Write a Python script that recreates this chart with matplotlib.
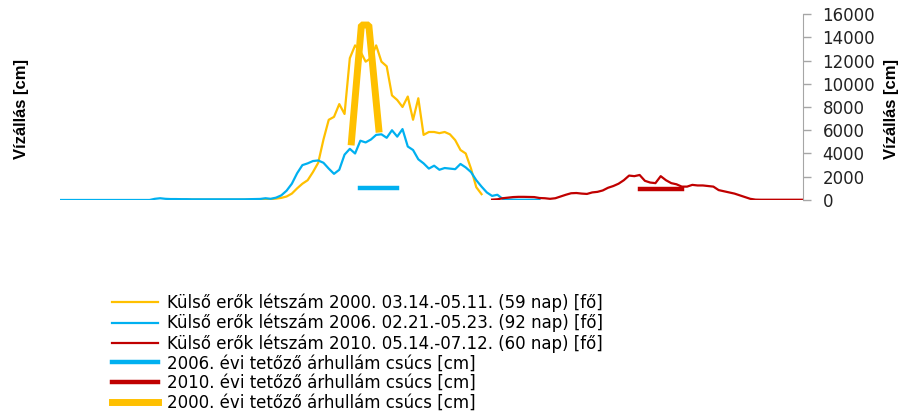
import numpy as np
import matplotlib.pyplot as plt

# days counted from 02.21 (start of the 2006 series)
start_2000 = 22
start_2006 = 0
start_2010 = 82

ero_2000 = [30, 30, 30, 30, 30, 20, 20, 20, 20, 20, 20, 20, 20, 30, 30, 40, 50,
            60, 80, 120, 180, 300, 550, 1000, 1400, 1700, 2400, 3200, 5200, 6900,
            7150, 8250, 7400, 12200, 13300, 12800, 11900, 12200, 13300, 11900,
            11500, 9000, 8600, 8000, 8900, 6900, 8750, 5600, 5850, 5850, 5750,
            5850, 5650, 5150, 4300, 4000, 2700, 1100, 500]

ero_2006 = [0, 0, 0, 0, 0, 0, 0, 0, 0, 0, 0, 0, 0, 0, 0, 0, 0, 0, 100, 150,
            100, 80, 80, 70, 70, 60, 60, 60, 60, 60, 60, 60, 60, 60, 60, 60, 70,
            80, 90, 150, 100, 200, 400, 800, 1400, 2300, 3000, 3150, 3350, 3400,
            3200, 2700, 2250, 2600, 3900, 4400, 4000, 5100, 4950, 5200, 5600,
            5650, 5350, 6000, 5450, 6100, 4600, 4300, 3500, 3150, 2700, 2950,
            2600, 2750, 2700, 2650, 3100, 2800, 2400, 1700, 1150, 650, 350, 450,
            100, 50, 30, 20, 20, 20, 20, 20]

ero_2010 = [30, 60, 150, 200, 250, 270, 270, 260, 250, 170, 150, 100, 150, 300,
            450, 580, 600, 550, 520, 650, 700, 820, 1050, 1200, 1400, 1700, 2100,
            2050, 2150, 1650, 1500, 1450, 2050, 1700, 1450, 1350, 1150, 1150,
            1300, 1250, 1250, 1200, 1150, 850, 750, 650, 550, 400, 250, 100, 30,
            20, 20, 20, 20, 20, 20, 20, 20, 20]

csucs_2006_days = [57, 58, 59, 60, 61, 62, 63, 64]
csucs_2006 = [1000, 1000, 1000, 1000, 1000, 1000, 1000, 1000]
csucs_2010_days = [110, 111, 112, 113, 114, 115, 116, 117, 118]
csucs_2010 = [950, 950, 950, 950, 950, 950, 950, 950, 950]
csucs_2000_days = [55.3, 57.2, 58.6, 60.5]
csucs_2000 = [5000, 15050, 15050, 6100]

labels = ["Külső erők létszám 2000. 03.14.-05.11. (59 nap) [fő]",
          "Külső erők létszám 2006. 02.21.-05.23. (92 nap) [fő]",
          "Külső erők létszám 2010. 05.14.-07.12. (60 nap) [fő]",
          "2006. évi tetőző árhullám csúcs [cm]",
          "2010. évi tetőző árhullám csúcs [cm]",
          "2000. évi tetőző árhullám csúcs [cm]"]
yticks = [0, 2000, 4000, 6000, 8000, 10000, 12000, 14000, 16000]

yellow = "#FFC000"
blue = "#00B0F0"
red = "#C00000"

fig = plt.figure(figsize=(9.01, 4.12), dpi=100)
ax = fig.add_axes([0.0666, 0.5146, 0.8246, 0.4514])

x00 = np.arange(start_2000, start_2000 + len(ero_2000))
x06 = np.arange(start_2006, start_2006 + len(ero_2006))
x10 = np.arange(start_2010, start_2010 + len(ero_2010))

l1, = ax.plot(x00, ero_2000, color=yellow, lw=1.6)
l2, = ax.plot(x06, ero_2006, color=blue, lw=1.6)
l3, = ax.plot(x10, ero_2010, color=red, lw=1.6)
l4, = ax.plot(csucs_2006_days, csucs_2006, color=blue, lw=3.2, solid_capstyle="projecting")
l5, = ax.plot(csucs_2010_days, csucs_2010, color=red, lw=3.2, solid_capstyle="projecting")
l6, = ax.plot(csucs_2000_days, csucs_2000, color=yellow, lw=5, solid_joinstyle="bevel")

ax.set_xlim(0, 141)
ax.set_ylim(0, 16000)
ax.yaxis.tick_right()
ax.set_yticks(yticks)
ax.set_xticks([])
for s in ["left", "top", "bottom"]:
    ax.spines[s].set_visible(False)
ax.spines["right"].set_color("#A6A6A6")
ax.tick_params(axis="y", colors="#A6A6A6", length=6, width=1, labelcolor="#222222",
               labelsize=12, pad=8)

lab_font = dict(family=["Liberation Sans", "DejaVu Sans"], weight="bold", size=12)
fig.text(0.024, 0.735, "Vízállás [cm]", rotation=90, ha="center", va="center", **lab_font)
fig.text(0.989, 0.735, "Vízállás [cm]", rotation=90, ha="center", va="center", **lab_font)

fig.legend([l1, l2, l3, l4, l5, l6], labels, loc="upper left",
           bbox_to_anchor=(0.124, 0.287), frameon=False, fontsize=12,
           handlelength=2.75, handletextpad=0.55, labelspacing=0.1, borderpad=0,
           borderaxespad=0)

fig.savefig("out.png", dpi=100)
